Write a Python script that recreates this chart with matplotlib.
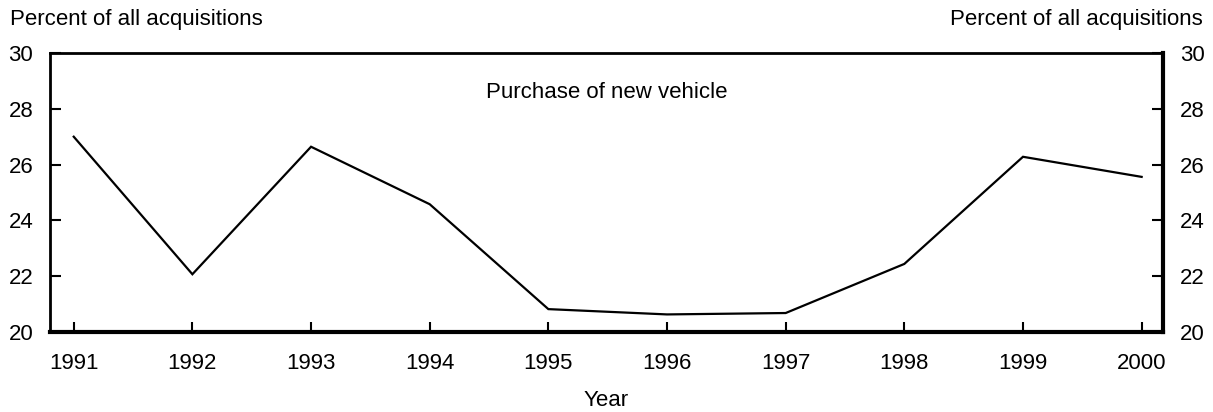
import matplotlib
matplotlib.use("Agg")
from matplotlib import pyplot as plt

years = [1991, 1992, 1993, 1994, 1995, 1996, 1997, 1998, 1999, 2000]
new_vehicle_pct = [27.0, 22.07, 26.64, 24.58, 20.82, 20.63, 20.68, 22.44, 26.28, 25.56]
y_ticks = [20, 22, 24, 26, 28, 30]

plt.rcParams['font.family'] = ['Liberation Sans', 'DejaVu Sans']
fs = 16

fig = plt.figure(figsize=(12.13, 4.12), dpi=100)
ax = fig.add_axes([50 / 1213, 80 / 412, 1113 / 1213, 279 / 412])

ax.plot(years, new_vehicle_pct, color='black', linewidth=1.6, solid_joinstyle='miter')

ax.set_xlim(1990.8, 2000.18)
ax.set_ylim(20, 30)
ax.set_xticks(years)
ax.set_yticks(y_ticks)

ax.tick_params(axis='both', direction='in', length=8, width=1.5, labelsize=fs, colors='black')
ax.tick_params(axis='y', pad=12, left=True, right=True, labelleft=True, labelright=True)
ax.tick_params(axis='x', pad=15, length=7)
# hide the tick marks at the top and bottom y-limits
for t in ax.yaxis.get_major_ticks():
    if t.get_loc() in (20, 30):
        t.tick1line.set_visible(False)
        t.tick2line.set_visible(False)

ax.spines['left'].set_linewidth(2)
ax.spines['top'].set_linewidth(2)
ax.spines['bottom'].set_linewidth(3)
ax.spines['right'].set_linewidth(3)

ax.text(0.5, 0.857, 'Purchase of new vehicle', transform=ax.transAxes,
        ha='center', va='center', fontsize=fs)
ax.set_xlabel('Year', fontsize=fs, labelpad=12)

fig.text(10 / 1213, 1 - 20 / 412, 'Percent of all acquisitions', ha='left', va='center', fontsize=fs)
fig.text(1203 / 1213, 1 - 20 / 412, 'Percent of all acquisitions', ha='right', va='center', fontsize=fs)

fig.savefig('out.png', dpi=100)
